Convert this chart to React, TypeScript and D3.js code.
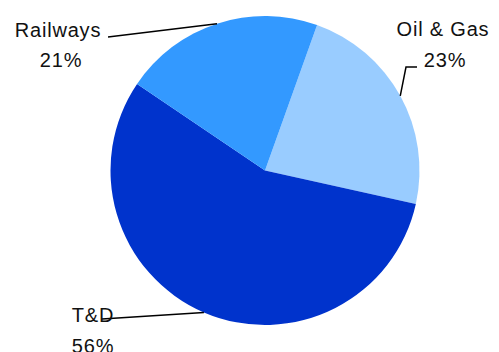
import React from "react";
import * as d3 from "d3";

const categories = ["Oil & Gas", "T&D", "Railways"];
const values = [23, 56, 21];
const colors = ["#99CCFF", "#0033CC", "#3399FF"];

const W = 499;
const H = 352;
const cx = 265;
const cy = 170.5;
const R = 154.5;
const startDeg = 19.7;

// label layout: [nameX, nameY, pctX, pctY, elbow points before arc point]
const labelLayout = [
  { nx: 443, ny: 36, px: 445, py: 67, line: [[417, 67], [406, 67]] },
  { nx: 93, ny: 322, px: 93, py: 353, line: [[102, 319]] },
  { nx: 58, ny: 37, px: 61, py: 67, line: [[108, 37]] },
];

export default function App() {
  const pie = d3
    .pie<number>()
    .sort(null)
    .value((d) => d)
    .startAngle((startDeg * Math.PI) / 180)
    .endAngle((startDeg * Math.PI) / 180 + 2 * Math.PI);
  const arcs = pie(values);
  const arcGen = d3.arc<d3.PieArcDatum<number>>().innerRadius(0).outerRadius(R);
  const total = d3.sum(values);
  const font = "'Liberation Sans', Arial, sans-serif";

  return (
    <svg
      width={W}
      height={H}
      style={{ position: "absolute", left: 0, top: 0, background: "#fff" }}
    >
      <g transform={`translate(${cx},${cy})`}>
        {arcs.map((a, i) => (
          <path key={i} d={arcGen(a) || ""} fill={colors[i]} />
        ))}
      </g>
      {arcs.map((a, i) => {
        const mid = (a.startAngle + a.endAngle) / 2;
        const ex = cx + R * Math.sin(mid);
        const ey = cy - R * Math.cos(mid);
        const L = labelLayout[i];
        const pts = [...L.line, [ex, ey]];
        const pct = Math.round((values[i] / total) * 100);
        return (
          <g key={i}>
            <polyline
              points={pts.map((p) => p.join(",")).join(" ")}
              fill="none"
              stroke="#000"
              strokeWidth={1.5}
            />
            <text
              x={L.nx}
              y={L.ny}
              textAnchor="middle"
              fontFamily={font}
              fontSize={20}
              letterSpacing={0.8}
              fill="#111"
            >
              {categories[i]}
            </text>
            <text
              x={L.px}
              y={L.py}
              textAnchor="middle"
              fontFamily={font}
              fontSize={20}
              letterSpacing={0.8}
              fill="#111"
            >
              {pct}%
            </text>
          </g>
        );
      })}
    </svg>
  );
}
